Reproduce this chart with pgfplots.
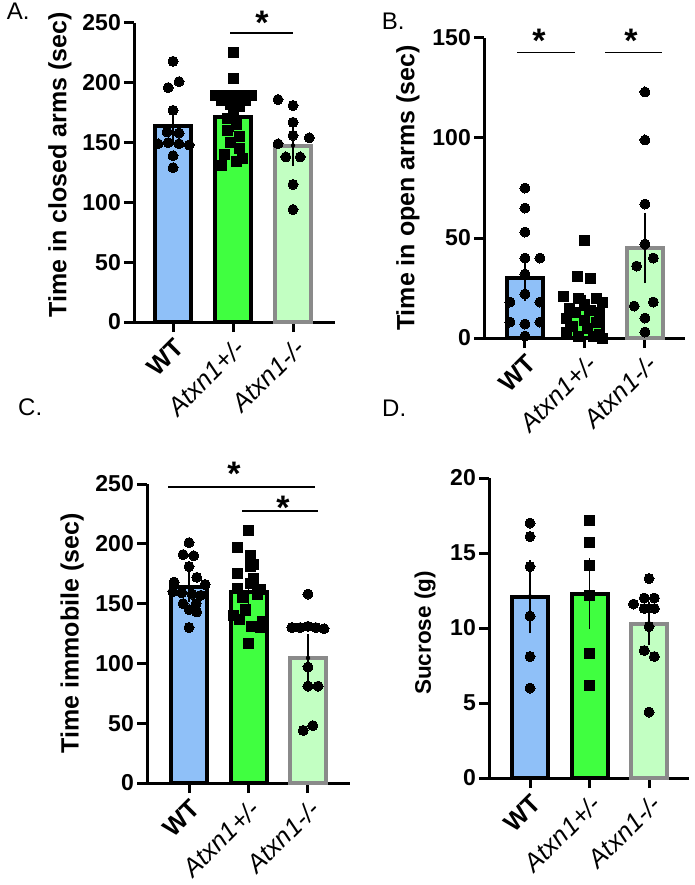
\documentclass[border=0pt]{standalone}
\usepackage{pgfplots}
\pgfplotsset{compat=1.18}
\usepackage{fontspec}
\setmainfont{Liberation Sans}
\definecolor{wtblue}{HTML}{8FC0F8}
\definecolor{hetgreen}{HTML}{40FF40}
\definecolor{kogreen}{HTML}{C2FFC2}
\definecolor{kogray}{HTML}{8A8A8A}

\pgfplotsset{
  panel/.style={
    scale only axis, clip=false,
    ymin=0,
    axis x line*=bottom, axis y line*=left,
    axis line style={line width=3pt, -},
    tick style={line width=3pt, black},
    major tick length=10pt,
    tick align=outside,
    xtick={0,1,2},
    xticklabels={\textbf{WT}, \textit{Atxn1+/-}, \textit{Atxn1-/-}},
    x tick label style={rotate=45, anchor=north east, font=\fontsize{25.5}{27}\selectfont, inner sep=3.5pt},
    y tick label style={font=\bfseries\fontsize{23}{26}\selectfont, inner sep=3pt},
    /pgf/number format/assume math mode=true,
    every axis y label/.style={rotate=90, anchor=center, font=\bfseries\fontsize{25}{28}\selectfont},
  },
  wtbar/.style={ybar, bar width=36pt, bar shift=0pt, fill=wtblue, draw=black, line width=4pt},
  hetbar/.style={ybar, bar width=36pt, bar shift=0pt, fill=hetgreen, draw=black, line width=4pt},
  kobar/.style={ybar, bar width=36pt, bar shift=0pt, fill=kogreen, draw=kogray, line width=4pt},
  dots/.style={only marks, mark=*, mark size=5pt, mark options={fill=black, draw=black, line width=0pt}},
  squares/.style={only marks, mark=square*, mark size=5pt, mark options={fill=black, draw=black, line width=0pt}},
  sem/.style={only marks, mark=none, error bars/.cd, y dir=both, y explicit,
     error bar style={line width=1.8pt, draw=black},
     error mark options={line width=1.8pt, draw=black, mark size=9.5pt}},
}

\begin{document}
\begin{tikzpicture}[x=1pt,y=1pt]
\useasboundingbox (0,0) rectangle (694,-885);

% ---------------- Panel A ----------------
\begin{axis}[panel, at={(134pt,-322pt)}, anchor=south west,
  width=201pt, height=299pt, xmin=-0.65, xmax=2.7, ymax=250,
  ytick={0,50,100,150,200,250},
  ylabel={Time in closed arms (sec)},
  ylabel style={at={(axis description cs:-0.368,0.525)}}]
\addplot[wtbar] coordinates {(0,164)};
\addplot[hetbar] coordinates {(1,171)};
\addplot[kobar] coordinates {(2,147.5)};
\addplot[dots] coordinates {(0,218) (0.1,201) (-0.08,196) (0,177) (-0.1,159) (0.1,158)
  (-0.25,149) (-0.08,150) (0.1,149) (0.27,148) (0,139) (0,129)};
\addplot[squares] coordinates {(1,225) (1,204) (0.7,189) (0.85,189) (1,189) (1.15,189) (1.3,189)
  (0.8,185) (1.2,185) (0.95,182) (1.1,180) (1,175) (0.9,170) (1.05,165) (0.9,160) (1.1,155)
  (0.95,150) (1.1,145) (0.85,140) (1.15,137) (1.05,134) (0.8,131)};
\addplot[dots] coordinates {(1.75,186) (2,181) (2,167) (2,156) (2.27,154) (1.75,149)
  (1.88,138) (2.12,138) (2,115) (2,94)};
\addplot[sem] coordinates {(0,164) +- (0,8) (1,171) +- (0,4) (2,147.5) +- (0,9)};
\end{axis}

% ---------------- Panel B ----------------
\begin{axis}[panel, at={(484pt,-338pt)}, anchor=south west,
  width=201pt, height=300pt, xmin=-0.683, xmax=2.667, ymax=150,
  ytick={0,50,100,150},
  ylabel={Time in open arms (sec)},
  ylabel style={at={(axis description cs:-0.378,0.5)}}]
\addplot[wtbar] coordinates {(0,30)};
\addplot[hetbar] coordinates {(1,14.5)};
\addplot[kobar] coordinates {(2,45)};
\addplot[dots] coordinates {(0,75) (0,65) (0,53) (0,40) (0.25,40) (0,32) (0,22) (-0.25,18)
  (0.25,18) (-0.25,8) (0.25,8) (0,7) (0,1)};
\addplot[squares] coordinates {(1,49) (0.88,31) (1.1,30) (0.65,21) (0.9,20) (1.2,20) (1.3,18)
  (1.0,17) (0.75,15) (1.1,14) (0.85,13) (1.25,12) (0.7,10) (1.0,9) (1.2,8) (0.8,6) (1.05,5)
  (0.7,3) (1.25,2) (0.9,1) (1.15,1) (1.3,0)};
\addplot[dots] coordinates {(2,123) (2,99) (2,67) (2,47) (2.14,40) (1.86,36) (2.14,18)
  (1.82,16) (2,10) (2,3)};
\addplot[sem] coordinates {(0,30) +- (0,6.6) (1,14.5) +- (0,2.5) (2,45) +- (0,12.8)};
\end{axis}

% ---------------- Panel C ----------------
\begin{axis}[panel, at={(147pt,-783pt)}, anchor=south west,
  width=203pt, height=299pt, xmin=-0.706, xmax=2.706, ymax=250,
  ytick={0,50,100,150,200,250},
  ylabel={Time immobile (sec)},
  ylabel style={at={(axis description cs:-0.369,0.5)}}]
\addplot[wtbar] coordinates {(0,164)};
\addplot[hetbar] coordinates {(1,159.5)};
\addplot[kobar] coordinates {(2,104.5)};
\addplot[dots] coordinates {(0,201) (-0.1,191) (0.08,190) (0,181) (0.13,172) (-0.25,168)
  (0.27,166) (-0.27,160) (-0.12,159) (0.05,158) (0.2,157) (-0.1,150) (0.12,150) (0,145)
  (0.13,143) (0,130)};
\addplot[squares] coordinates {(1,211) (0.82,197) (1.03,190) (1.08,183) (1.03,181) (0.82,175)
  (1.08,171) (1.03,167) (0.82,163) (1.2,162) (1.15,158) (0.9,155) (0.95,145) (0.95,144)
  (0.75,140) (0.85,137) (1.23,135) (1.05,131) (1.2,130) (1,117)};
\addplot[dots] coordinates {(2,158) (1.73,130) (1.87,130) (2,131) (2.13,130) (2.27,129)
  (2,97) (2,81) (2.17,81) (1.92,44) (2.08,48)};
\addplot[sem] coordinates {(0,164) +- (0,4.5) (1,159.5) +- (0,5) (2,104.5) +- (0,12)};
\end{axis}

% ---------------- Panel D ----------------
\begin{axis}[panel, at={(489pt,-778pt)}, anchor=south west,
  width=200pt, height=300pt, xmin=-0.689, xmax=2.672, ymax=20,
  ytick={0,5,10,15,20},
  ylabel={Sucrose (g)},
  ylabel style={at={(axis description cs:-0.32,0.483)}, font=\bfseries\fontsize{22.5}{26}\selectfont}]
\addplot[wtbar] coordinates {(0,12.1)};
\addplot[hetbar] coordinates {(1,12.3)};
\addplot[kobar] coordinates {(2,10.3)};
\addplot[dots] coordinates {(0,17) (0,16.1) (0,14.1) (0,10.8) (0,8.1) (0,6.0)};
\addplot[squares] coordinates {(1,17.2) (1,15.7) (1,14.2) (1,12.2) (1,8.3) (1,6.2)};
\addplot[dots] coordinates {(2,13.3) (1.92,12.0) (2.09,12.0) (1.74,11.6) (1.92,11.3)
  (2.09,11.3) (2,10.1) (1.92,8.5) (2.09,8.1) (2,4.4)};
\addplot[sem] coordinates {(0,12.1) +- (0,1.8) (1,12.3) +- (0,1.75) (2,10.3) +- (0,0.8)};
\end{axis}

% ---------------- significance marks ----------------
\begin{scope}[line width=1.5pt]
\draw (230,-33) -- (293,-33);
\draw (517,-52.7) -- (575,-52.7);
\draw (605,-52.7) -- (662,-52.7);
\draw (168,-487) -- (315,-487);
\draw (242,-511) -- (318,-511);
\end{scope}
\begin{scope}[every node/.style={inner sep=0pt, anchor=base, font=\bfseries\fontsize{34}{34}\selectfont}]
\node at (262,-34.7) {*};
\node at (539,-53) {*};
\node at (631,-53) {*};
\node at (234,-485.7) {*};
\node at (283,-519) {*};
\end{scope}

% ---------------- panel letters ----------------
\begin{scope}[every node/.style={inner sep=0pt, anchor=base west, font=\fontsize{24}{24}\selectfont}]
\node at (6.7,-20) {A.};
\node at (381.7,-30) {B.};
\node at (18,-415) {C.};
\node at (382,-416.5) {D.};
\end{scope}
\end{tikzpicture}
\end{document}
